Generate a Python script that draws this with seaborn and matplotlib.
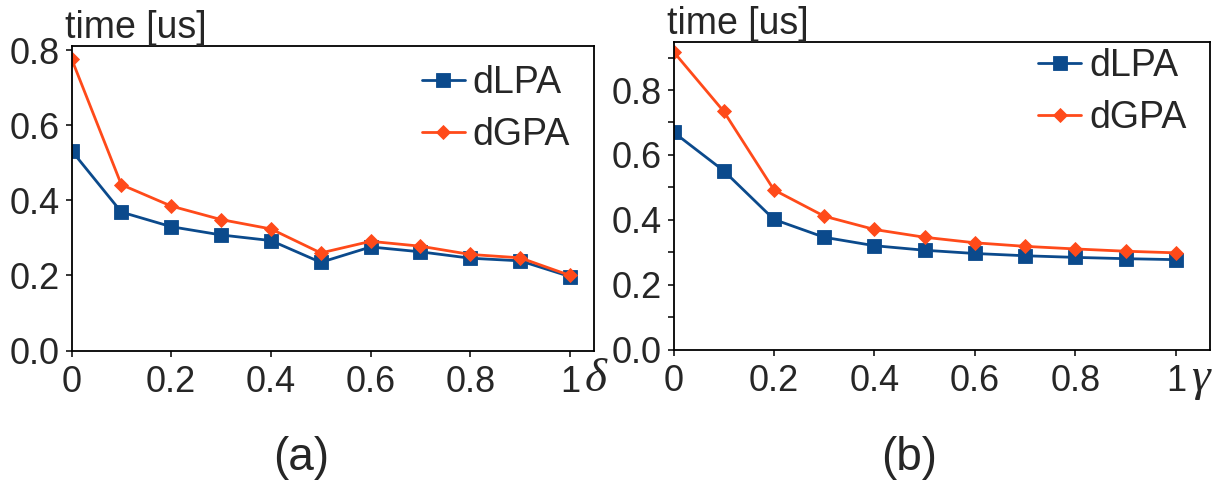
import matplotlib
matplotlib.use("Agg")
import matplotlib.pyplot as plt
import matplotlib.transforms as mtransforms
from matplotlib.ticker import MultipleLocator, FixedLocator, FixedFormatter
import seaborn as sns
import pandas as pd

# x positions shared by both panels (parameter sweep 0 .. 1)
x_vals = [0.0, 0.1, 0.2, 0.3, 0.4, 0.5, 0.6, 0.7, 0.8, 0.9, 1.0]

# (a) runtime vs delta
delta_dlpa = [0.533, 0.369, 0.330, 0.308, 0.293, 0.235, 0.276, 0.263, 0.246, 0.239, 0.197]
delta_dgpa = [0.778, 0.442, 0.385, 0.349, 0.324, 0.260, 0.291, 0.278, 0.256, 0.247, 0.200]

# (b) runtime vs gamma
gamma_dlpa = [0.670, 0.551, 0.401, 0.346, 0.320, 0.306, 0.296, 0.289, 0.284, 0.280, 0.277]
gamma_dgpa = [0.918, 0.734, 0.492, 0.411, 0.370, 0.346, 0.329, 0.318, 0.310, 0.303, 0.298]

series_names = ["dLPA", "dGPA"]
x_tick_vals = [0, 0.2, 0.4, 0.6, 0.8, 1.0]
x_tick_labels = ["0", "0.2", "0.4", "0.6", "0.8", "1"]
y_tick_vals = [0.0, 0.2, 0.4, 0.6, 0.8]
y_tick_labels = ["0.0", "0.2", "0.4", "0.6", "0.8"]

BLUE = "#0b4a8c"
ORANGE = "#ff4a1a"

sns.set_theme(style="ticks")
plt.rcParams["font.family"] = ["Liberation Sans", "DejaVu Sans"]

W, H = 1223, 488
fig = plt.figure(figsize=(W / 100, H / 100), dpi=100)


def px_axes(left, top, right, bottom):
    return fig.add_axes([left / W, 1 - bottom / H, (right - left) / W, (bottom - top) / H])


def long_frame(lpa, gpa):
    return pd.DataFrame({
        "x": x_vals * 2,
        "time": list(lpa) + list(gpa),
        "method": [series_names[0]] * len(x_vals) + [series_names[1]] * len(x_vals),
    })


def draw_panel(ax, lpa, gpa, xmax, ymax, greek, tag, legend_anchor, minor):
    df = long_frame(lpa, gpa)
    sns.lineplot(data=df, x="x", y="time", hue="method", style="method",
                 markers={"dLPA": "s", "dGPA": "D"}, dashes=False,
                 palette={"dLPA": BLUE, "dGPA": ORANGE},
                 linewidth=2.0, markeredgewidth=0.6, ax=ax, legend=True)
    for line in ax.get_lines():
        if line.get_marker() == "s":
            line.set_markersize(10.5)
            line.set_markeredgecolor(BLUE)
        elif line.get_marker() == "D":
            line.set_markersize(7.5)
            line.set_markeredgecolor(ORANGE)

    ax.set_xlim(0, xmax)
    ax.set_ylim(0, ymax)
    ax.xaxis.set_major_locator(FixedLocator(x_tick_vals))
    ax.xaxis.set_major_formatter(FixedFormatter(x_tick_labels))
    ax.yaxis.set_major_locator(FixedLocator(y_tick_vals))
    ax.yaxis.set_major_formatter(FixedFormatter(y_tick_labels))
    if minor:
        ax.yaxis.set_minor_locator(MultipleLocator(0.1))
        ax.tick_params(axis="y", which="minor", direction="out", length=4,
                       width=1.1, color="black")
    ax.tick_params(axis="both", which="major", direction="out", length=4.5,
                   width=1.1, color="black", labelsize=26)
    ax.tick_params(axis="x", which="major", pad=6)
    ax.tick_params(axis="y", which="major", pad=4)
    for s in ax.spines.values():
        s.set_visible(True)
        s.set_linewidth(1.3)
        s.set_color("black")
    ax.set_xlabel("")
    ax.set_ylabel("")
    ax.grid(False)

    ax.text(-0.012, 1.0, "time [us]", transform=ax.transAxes, ha="left",
            va="bottom", fontsize=27)
    greek_tf = mtransforms.blended_transform_factory(ax.transData, ax.transAxes)
    ax.text(1.03, -0.025, greek, transform=greek_tf,
            ha="left", va="top", fontsize=34, family=["Liberation Serif", "DejaVu Serif"],
            style="italic")
    ax.text(0.44, -0.352, tag, transform=ax.transAxes, ha="center", va="center",
            fontsize=33)

    handles, labels = ax.get_legend_handles_labels()
    ax.legend(handles, labels, loc="upper left", bbox_to_anchor=legend_anchor,
              frameon=False, fontsize=27, handlelength=1.15, handletextpad=0.2,
              labelspacing=0.42, borderaxespad=0, borderpad=0)


ax_a = px_axes(71.5, 45.5, 594, 350.5)
ax_b = px_axes(673.5, 42, 1210, 349.5)

draw_panel(ax_a, delta_dlpa, delta_dgpa, 1.048, 0.813, "\u03b4", "(a)", (0.67, 0.935), False)
draw_panel(ax_b, gamma_dlpa, gamma_dgpa, 1.068, 0.948, "\u03b3", "(b)", (0.68, 0.98), True)

fig.savefig("out.png", dpi=100)
